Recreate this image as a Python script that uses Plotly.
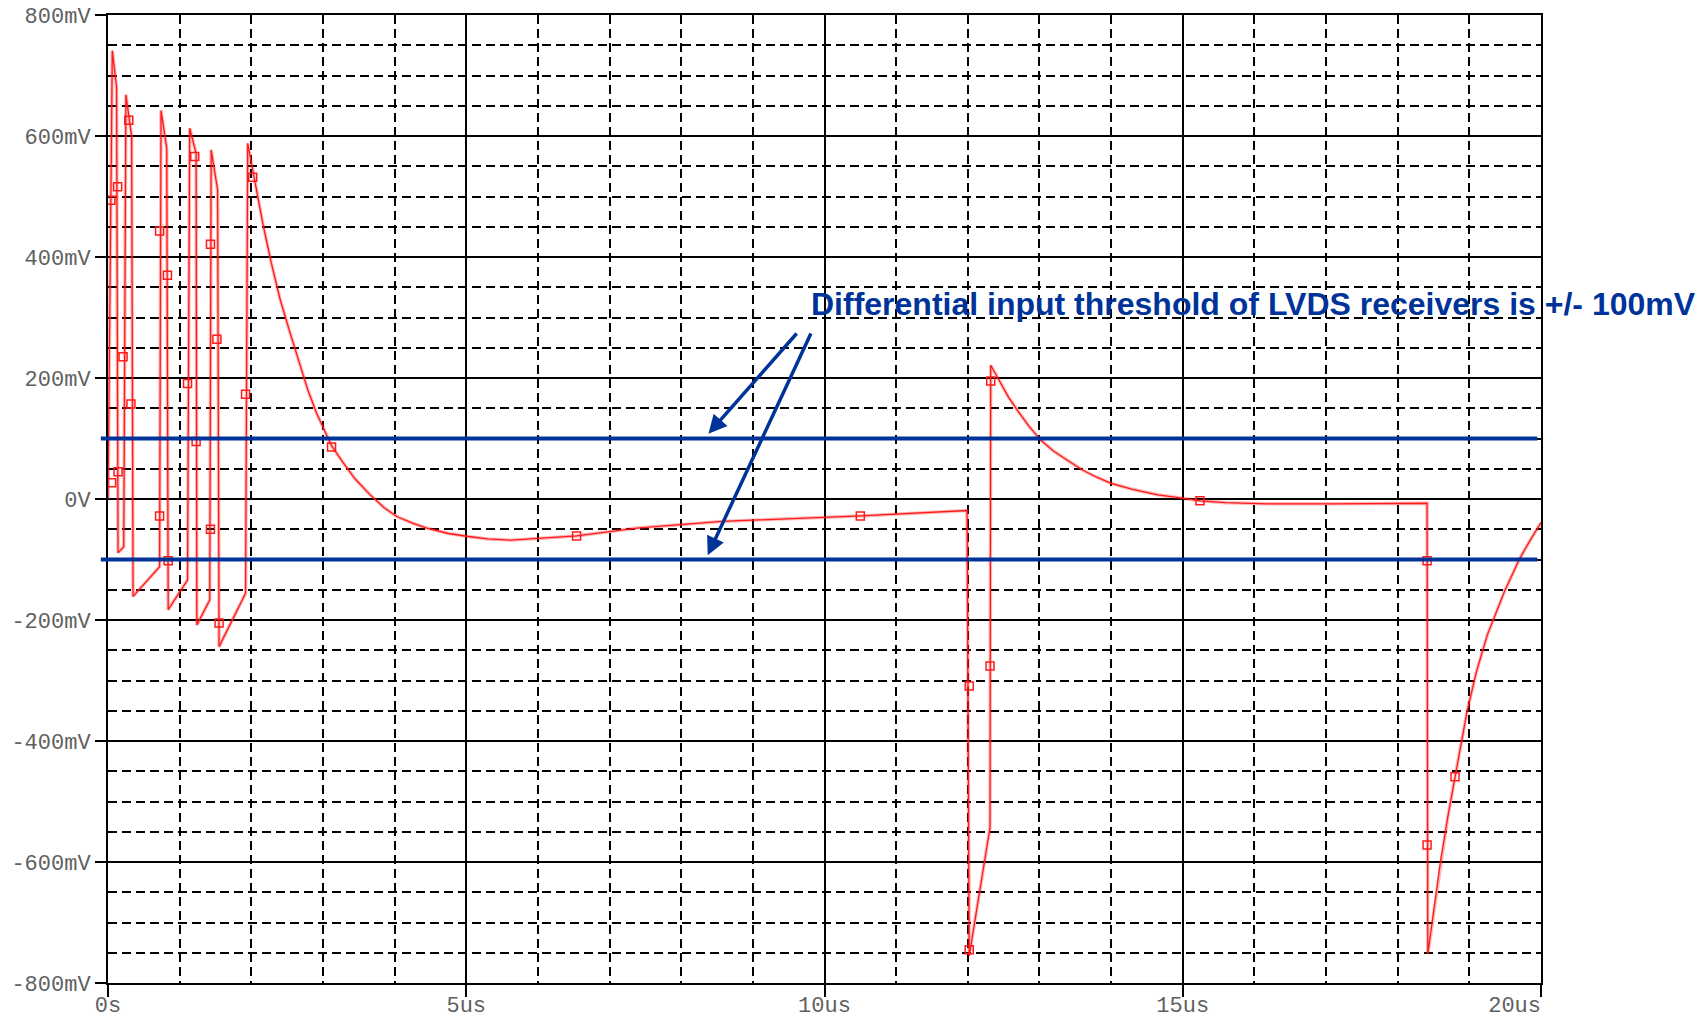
import plotly.graph_objects as go

# ---- data (time in us, voltage in mV) ----
t_trace = [0.0, 0.06, 0.12, 0.14, 0.22, 0.25, 0.33, 0.35, 0.72, 0.74, 0.82, 0.84,
           1.11, 1.14, 1.23, 1.24, 1.42, 1.44, 1.53, 1.55, 1.92, 1.95,
           2.01, 2.09, 2.17, 2.28, 2.40, 2.54, 2.68, 2.79, 2.91, 3.03, 3.12, 3.27,
           3.45, 3.65, 3.85, 4.03, 4.25, 4.45, 4.75, 5.03, 5.30, 5.62, 6.09, 6.54,
           7.38, 8.56, 10.5, 11.9, 11.99, 12.02, 12.31, 12.32,
           12.46, 12.57, 12.69, 12.85, 13.02, 13.20, 13.39, 13.60, 13.80, 14.0,
           14.30, 14.65, 15.02, 15.24, 15.60, 16.18, 17.1, 18.04, 18.41, 18.42,
           18.52, 18.60, 18.70, 18.80, 18.97, 19.10, 19.25, 19.49, 19.70, 19.85, 20.0]
v_trace = [0, 741, 680, -89, -79, 668, 599, -161, -112, 642, 580, -183,
           -134, 613, 571, -208, -167, 577, 511, -244, -156, 588,
           550, 500, 450, 390, 331, 275, 222, 180, 142, 110, 88, 62,
           33, 8, -14, -29, -40, -48, -57, -62, -66, -68, -65, -61,
           -48, -37, -28, -19, -19, -755, -543, 221,
           191, 168, 147, 121, 97, 79, 64, 48, 36, 26,
           16, 7, 1, -3, -6, -8, -8, -7, -7, -752,
           -670, -597, -525, -459, -350, -285, -225, -153, -99, -68, -39]

t_markers = [0.04, 0.05, 0.135, 0.14, 0.21, 0.29, 0.32, 0.72, 0.72, 0.83, 0.84,
             1.11, 1.21, 1.23, 1.43, 1.43, 1.52, 1.55, 1.92, 2.02, 3.12, 6.54,
             10.5, 12.02, 12.02, 12.31, 12.32, 15.24, 18.41, 18.41, 18.80]
v_markers = [494, 27, 516, 45, 235, 626, 157, 443, -28, 370, -102,
             191, 566, 95, 421, -50, 264, -205, 173, 532, 86, -61,
             -28, -309, -745, -276, 195, -3, -102, -572, -459]

x_tickvals = [0, 5, 10, 15, 20]
x_ticktext = ["0s", "5us", "10us", "15us", "20us\u00a0\u00a0\u00a0\u00a0"]
y_tickvals = [800, 600, 400, 200, 0, -200, -400, -600, -800]
y_ticktext = ["800mV", "600mV", "400mV", "200mV", "0V", "-200mV", "-400mV", "-600mV", "-800mV"]

threshold_levels = [100, -100]
label_text = "Differential input threshold of LVDS receivers is +/- 100mV"
arrow_tails = [(9.63, 276), (9.82, 276)]
arrow_heads = [(8.38, 108), (8.37, -93)]

RED = "#ff1a1a"
BLUE = "#003399"

fig = go.Figure()
fig.add_trace(go.Scatter(x=t_trace, y=v_trace, mode="lines",
                         line=dict(color="rgba(255,0,0,0.28)", width=3.5),
                         hoverinfo="skip", showlegend=False))
fig.add_trace(go.Scatter(x=t_trace, y=v_trace, mode="lines",
                         line=dict(color=RED, width=1.3), showlegend=False))
fig.add_trace(go.Scatter(x=t_markers, y=v_markers, mode="markers",
                         marker=dict(symbol="square-open", size=8, color=RED,
                                     line=dict(color=RED, width=1.5)),
                         showlegend=False))

for lvl in threshold_levels:
    fig.add_shape(type="line", xref="x domain", yref="y",
                  x0=-0.005, x1=0.9974, y0=lvl, y1=lvl,
                  line=dict(color=BLUE, width=4), layer="above")

for (tx, ty), (hx, hy) in zip(arrow_tails, arrow_heads):
    fig.add_annotation(x=hx, y=hy, ax=tx, ay=ty, xref="x", yref="y",
                       axref="x", ayref="y", text="", showarrow=True,
                       arrowhead=2, arrowsize=1.05, arrowwidth=3.5,
                       arrowcolor=BLUE, standoff=0, startstandoff=0)

fig.add_annotation(x=9.79, y=322, xref="x", yref="y", xanchor="left", yanchor="middle",
                   text="<b>" + label_text + "</b>", showarrow=False,
                   font=dict(family="Liberation Sans Narrow, Arial Narrow, Liberation Sans, Arial",
                             size=32, color=BLUE))

tickfont = dict(family="Liberation Mono, Courier New, monospace", size=22, color="#606060")

fig.update_xaxes(range=[0, 20], tickmode="array", tickvals=x_tickvals, ticktext=x_ticktext,
                 showgrid=True, gridcolor="black", gridwidth=1.6, automargin=False,
                 showline=True, mirror=True, linecolor="black", linewidth=2,
                 ticks="outside", ticklen=12, tickwidth=1.5, tickcolor="black",
                 ticklabelstandoff=-11,
                 zeroline=False, tickfont=tickfont,
                 minor=dict(tickmode="linear", tick0=0, dtick=1, showgrid=True,
                            gridcolor="black", gridwidth=1.6, griddash="9px,5px", ticks=""))
fig.update_yaxes(range=[-800, 800], tickmode="array", tickvals=y_tickvals, ticktext=y_ticktext,
                 showgrid=True, gridcolor="black", gridwidth=1.6, automargin=False,
                 showline=True, mirror=True, linecolor="black", linewidth=2,
                 ticks="outside", ticklen=11, tickwidth=1.5, tickcolor="black",
                 zeroline=False, tickfont=tickfont,
                 minor=dict(tickmode="linear", tick0=0, dtick=50, showgrid=True,
                            gridcolor="black", gridwidth=1.6, griddash="9px,5px", ticks=""))

fig.update_layout(width=1706, height=1019, autosize=False,
                  margin=dict(l=108, r=165, t=15, b=36),
                  plot_bgcolor="white", paper_bgcolor="white", showlegend=False)

# remove the browser's default 8px body margin so the figure sits at the page origin
fig.write_html("out.html", config={"displayModeBar": False},
               post_script="document.body.style.margin='0px';")
